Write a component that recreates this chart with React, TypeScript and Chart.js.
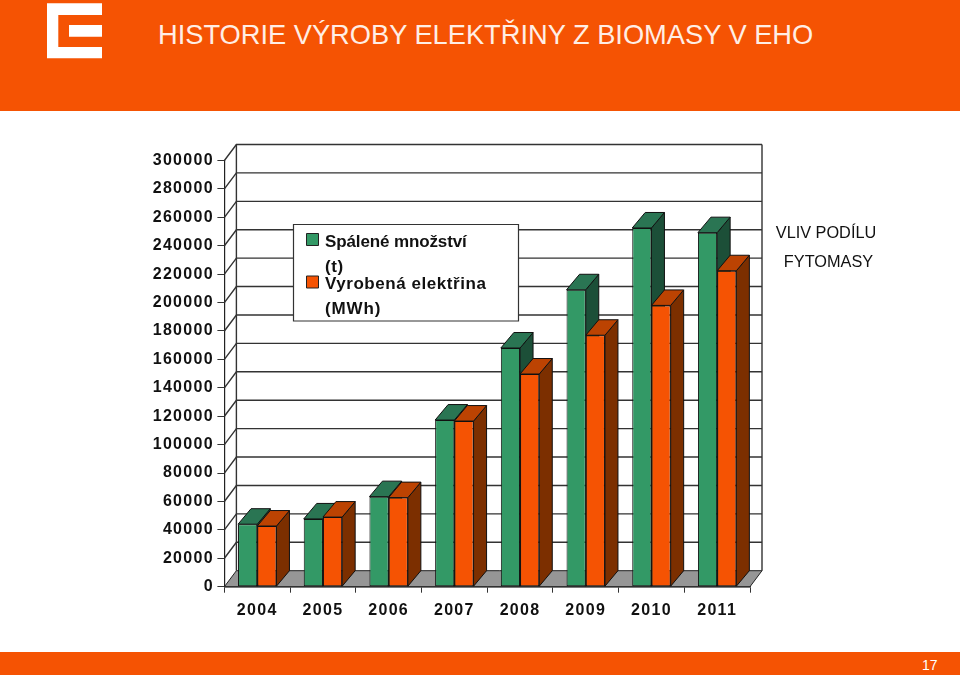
import React, { useEffect, useRef } from "react";
import { Chart, registerables } from "chart.js";

Chart.register(...registerables);

const years = ["2004", "2005", "2006", "2007", "2008", "2009", "2010", "2011"];
const burned = [44000, 47700, 63400, 117300, 168000, 209000, 252500, 249200];
const electricity = [42700, 49000, 62700, 116600, 149700, 177000, 198000, 222400];
const burnedLegend = ["Spálené množství", "(t)"];
const electricityLegend = ["Vyrobená elektřina", "(MWh)"];
const titleText = "HISTORIE VÝROBY ELEKTŘINY Z BIOMASY V EHO";
const sideNote = ["VLIV PODÍLU", "FYTOMASY"];
const pageNumber = "17";

const ORANGE = "#F55303";
const FACES: Record<number, { top: string; side: string }> = {
  0: { top: "#2A7553", side: "#1C4F38" },
  1: { top: "#BC4302", side: "#7C2F00" },
};
const LINE = "#333333";
const WALL_DX = 12;
const WALL_DY = 16;
const BAR_DX = 13;
const BAR_DY = 15.5;

function poly(ctx: CanvasRenderingContext2D, pts: number[][], fill: string | null, stroke: string, lw = 1) {
  ctx.beginPath();
  pts.forEach((p, i) => (i ? ctx.lineTo(p[0], p[1]) : ctx.moveTo(p[0], p[1])));
  ctx.closePath();
  if (fill) {
    ctx.fillStyle = fill;
    ctx.fill();
  }
  ctx.strokeStyle = stroke;
  ctx.lineWidth = lw;
  ctx.stroke();
}

const box3d = {
  id: "box3d",
  beforeDraw(chart: any) {
    (chart.ctx as any).letterSpacing = "1.3px";
  },
  beforeDatasetsDraw(chart: any) {
    const { ctx, chartArea: a, scales } = chart;
    const y = scales.y;
    ctx.save();
    poly(
      ctx,
      [
        [a.left, a.bottom],
        [a.right, a.bottom],
        [a.right + WALL_DX, a.bottom - WALL_DY],
        [a.left + WALL_DX, a.bottom - WALL_DY],
      ],
      "#969696",
      "#222222"
    );
    ctx.strokeStyle = LINE;
    ctx.lineWidth = 1.4;
    y.ticks.forEach((t: any) => {
      const py = y.getPixelForValue(t.value);
      if (t.value === 0) return;
      ctx.beginPath();
      ctx.moveTo(a.left, py);
      ctx.lineTo(a.left + WALL_DX, py - WALL_DY);
      ctx.lineTo(a.right + WALL_DX, py - WALL_DY);
      ctx.stroke();
    });
    ctx.beginPath();
    ctx.moveTo(a.left + WALL_DX, a.top - WALL_DY);
    ctx.lineTo(a.left + WALL_DX, a.bottom - WALL_DY);
    ctx.moveTo(a.right + WALL_DX, a.top - WALL_DY);
    ctx.lineTo(a.right + WALL_DX, a.bottom - WALL_DY);
    ctx.stroke();
    ctx.restore();
  },
  beforeDatasetDraw() {
    return false;
  },
  afterDatasetsDraw(chart: any) {
    const { ctx } = chart;
    ctx.save();
    years.forEach((_, i) => {
      chart.data.datasets.forEach((_d: any, di: number) => {
        const el = chart.getDatasetMeta(di).data[i];
        el.draw(ctx);
        const { x, y, base, width } = el.getProps(["x", "y", "base", "width"], true);
        const l = x - width / 2;
        const r = x + width / 2;
        poly(
          ctx,
          [
            [r, y],
            [r + BAR_DX, y - BAR_DY],
            [r + BAR_DX, base - BAR_DY],
            [r, base],
          ],
          FACES[di].side,
          "#111111"
        );
        poly(
          ctx,
          [
            [l, y],
            [l + BAR_DX, y - BAR_DY],
            [r + BAR_DX, y - BAR_DY],
            [r, y],
          ],
          FACES[di].top,
          "#111111"
        );
      });
    });
    ctx.restore();
  },
  afterDraw(chart: any) {
    const ctx = chart.ctx as CanvasRenderingContext2D;
    ctx.save();
    poly(ctx, [[293.5, 224.5], [518.5, 224.5], [518.5, 321], [293.5, 321]], "#ffffff", "#333333", 1.2);
    const rows = [
      { swatchY: 233.5, lines: [246.5, 271.5], spacing: ["-0.12px", "0.6px"] },
      { swatchY: 276, lines: [289, 314], spacing: ["0.55px", "0.9px"] },
    ];
    ctx.font = "bold 17px 'Liberation Sans'";
    ctx.textBaseline = "alphabetic";
    ctx.textAlign = "left";
    chart.data.datasets.forEach((d: any, i: number) => {
      const r = rows[i];
      ctx.beginPath();
      ctx.rect(306.5, r.swatchY, 12, 12);
      ctx.fillStyle = d.backgroundColor;
      ctx.fill();
      ctx.strokeStyle = "#222222";
      ctx.lineWidth = 1;
      ctx.stroke();
      ctx.fillStyle = "#111111";
      d.label.forEach((line: string, k: number) => {
        (ctx as any).letterSpacing = r.spacing[k];
        ctx.fillText(line, 325, r.lines[k]);
      });
    });
    ctx.restore();
  },
};

export default function App() {
  const ref = useRef<HTMLCanvasElement>(null);
  useEffect(() => {
    const chart = new Chart(ref.current!, {
      type: "bar",
      plugins: [box3d],
      data: {
        labels: years,
        datasets: [
          { label: burnedLegend as any, data: burned, backgroundColor: "#339966", borderColor: "#111111", borderWidth: 1, borderSkipped: false },
          { label: electricityLegend as any, data: electricity, backgroundColor: ORANGE, borderColor: "#111111", borderWidth: 1, borderSkipped: false },
        ],
      },
      options: {
        responsive: false,
        animation: false,
        layout: { padding: { top: 160.5, right: 210, bottom: 0, left: 0 } },
        plugins: { legend: { display: false }, title: { display: false }, tooltip: { enabled: false } },
        datasets: { bar: { categoryPercentage: 0.585, barPercentage: 1 } },
        scales: {
          x: {
            afterFit: (s: any) => {
              s.height = 88.3;
            },
            border: { color: "#222222", width: 1.5 },
            grid: { drawOnChartArea: false, drawTicks: true, tickLength: 6, tickColor: "#333333", offset: true },
            ticks: {
              color: "#111111",
              font: { family: "'Liberation Sans'", size: 16, weight: "bold" },
              padding: 8,
              maxRotation: 0,
              autoSkip: false,
            },
          },
          y: {
            min: 0,
            max: 300000,
            afterFit: (s: any) => {
              s.width = 224.4;
            },
            border: { color: "#222222", width: 1.2 },
            grid: { drawOnChartArea: false, drawTicks: true, tickLength: 7, tickColor: "#333333" },
            ticks: {
              stepSize: 20000,
              autoSkip: false,
              color: "#111111",
              font: { family: "'Liberation Sans'", size: 16, weight: "bold" },
              padding: 3.5,
              callback: (v: any) => String(v),
            },
          },
        },
      } as any,
    });
    return () => chart.destroy();
  }, []);

  const text: React.CSSProperties = {
    position: "absolute",
    fontFamily: "'Liberation Sans', Arial, sans-serif",
    whiteSpace: "nowrap",
    lineHeight: 1,
  };
  return (
    <div style={{ position: "absolute", left: 0, top: 0, width: 960, height: 675, overflow: "hidden", background: "#fff" }}>
      <canvas ref={ref} width={960} height={675} style={{ position: "absolute", left: 0, top: 0, display: "block" }} />
      <div style={{ position: "absolute", left: 0, top: 0, width: 960, height: 110.5, background: ORANGE }} />
      <svg width={960} height={70} style={{ position: "absolute", left: 0, top: 0 }}>
        <path d="M47 3.3H102V15H58.3V47H102V58.3H47Z M69 25H102V36.7H69Z" fill="#ffffff" />
      </svg>
      <div style={{ ...text, left: 158, top: 21, fontSize: 27.25, color: "#ffeee5" }}>{titleText}</div>
      <div style={{ ...text, left: 826, top: 224, fontSize: 16.3, color: "#111111", transform: "translateX(-50%)" }}>{sideNote[0]}</div>
      <div style={{ ...text, left: 828.5, top: 253, fontSize: 16.3, color: "#111111", transform: "translateX(-50%)" }}>{sideNote[1]}</div>
      <div style={{ position: "absolute", left: 0, top: 652, width: 960, height: 23, background: ORANGE }} />
      <div style={{ ...text, left: 922, top: 658, fontSize: 14, color: "#ffffff" }}>{pageNumber}</div>
    </div>
  );
}
